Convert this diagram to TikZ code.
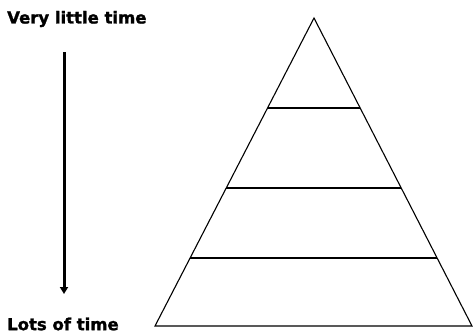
\documentclass[tikz,border=0pt]{standalone}
\usepackage{fontspec}
\newfontfamily\lblfont[BoldFeatures={FakeBold=1.5}]{DejaVu Sans}
\usetikzlibrary{arrows.meta,calc}
\tikzset{
  lbl/.style={anchor=west,inner sep=0pt,font=\lblfont\bfseries\fontsize{16.5}{20}\selectfont},
  edge/.style={line width=1.1pt,line join=miter},
  level/.style={line width=1.5pt},
  timearrow/.style={line width=3pt,-{Triangle[length=7pt,width=8pt]}}
}
\begin{document}
\begin{tikzpicture}[x=1pt,y=-1pt]
\useasboundingbox (0,0) rectangle (473,335);
\node[lbl] (top) at (7,19) {Very little time};
\node[lbl] (bot) at (7,324) {Lots of time};
\coordinate (a1) at (64,52);
\coordinate (a2) at (64,294);
\draw[timearrow] (a1) -- (a2);
\coordinate (apex) at (314,18);
\coordinate (bl) at (155,326);
\coordinate (br) at (472,326);
\draw[edge] (bl) -- (apex) -- (br) -- cycle;
\draw[level] ($(apex)!0.2922!(bl)$) -- ($(apex)!0.2922!(br)$);
\draw[level] ($(apex)!0.5519!(bl)$) -- ($(apex)!0.5519!(br)$);
\draw[level] ($(apex)!0.7792!(bl)$) -- ($(apex)!0.7792!(br)$);
\end{tikzpicture}
\end{document}
